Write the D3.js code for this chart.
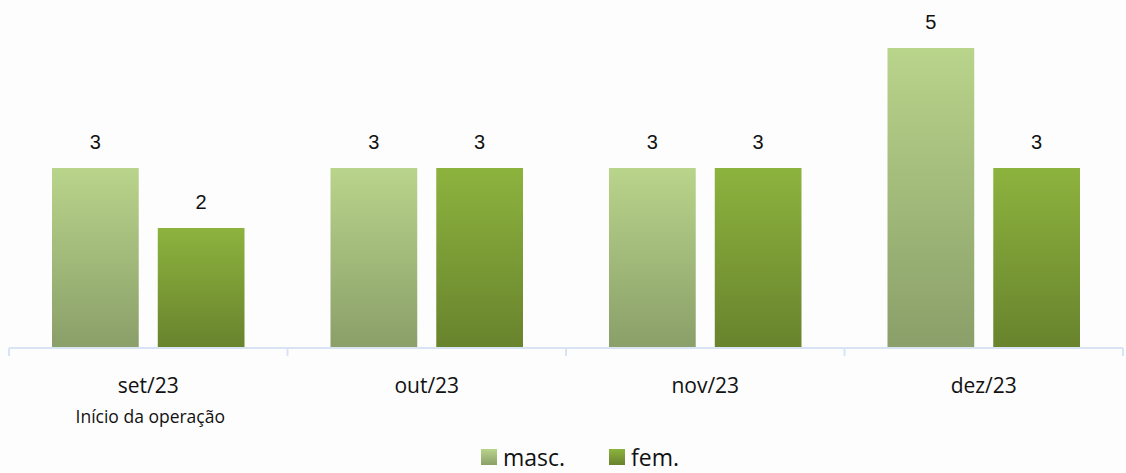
<!DOCTYPE html>
<html>
<head>
<meta charset="utf-8">
<script src="https://cdn.jsdelivr.net/npm/d3@7"></script>
<style>
  body { margin: 0; background: #fcfcfc; }
  svg { display: block; }
</style>
</head>
<body>
<script>
var width = 1126;
var height = 473;
var baseY = 348;

// data
var months = ["set/23", "out/23", "nov/23", "dez/23"];
var series = ["masc.", "fem."];
var masc = [3, 3, 3, 5];
var fem = [2, 3, 3, 3];
var notes = ["Início da operação", "", "", ""];

var values = [masc, fem];
var colors = {
  "masc.": ["#b9d48b", "#8a9f69"],
  "fem.": ["#8db33e", "#68832d"]
};

var svg = d3.select('body').append('svg')
    .attr('width', width)
    .attr('height', height);

// gradients
var defs = svg.append('defs');
series.forEach(function(s, i) {
  var g = defs.append('linearGradient')
      .attr('id', 'grad' + i)
      .attr('x1', 0).attr('y1', 0).attr('x2', 0).attr('y2', 1);
  g.append('stop').attr('offset', '0%').attr('stop-color', colors[s][0]);
  g.append('stop').attr('offset', '100%').attr('stop-color', colors[s][1]);
});

// faint background
svg.append('rect')
    .attr('width', width)
    .attr('height', height)
    .attr('fill', '#fdfdfd');

var x0 = d3.scaleBand()
    .domain(months)
    .range([9, 1123]);

var x1 = d3.scaleBand()
    .domain(series)
    .range([43, x0.bandwidth() - 43])
    .paddingInner(0.18);

var y = d3.scaleLinear()
    .domain([0, 5])
    .range([baseY, 48]);

// bars
var groups = svg.selectAll('.grp')
    .data(months)
    .enter().append('g')
    .attr('transform', function(d) { return 'translate(' + x0(d) + ',0)'; });

groups.selectAll('rect')
    .data(function(d, mi) {
      return series.map(function(s, si) { return {s: s, si: si, v: values[si][mi]}; });
    })
    .enter().append('rect')
    .attr('x', function(d) { return x1(d.s); })
    .attr('y', function(d) { return y(d.v); })
    .attr('width', x1.bandwidth())
    .attr('height', function(d) { return baseY - y(d.v); })
    .attr('fill', function(d) { return 'url(#grad' + d.si + ')'; });

// value labels
groups.selectAll('text.val')
    .data(function(d, mi) {
      return series.map(function(s, si) { return {s: s, v: values[si][mi]}; });
    })
    .enter().append('text')
    .attr('class', 'val')
    .attr('x', function(d) { return x1(d.s) + x1.bandwidth() / 2; })
    .attr('y', function(d) { return y(d.v) - 19; })
    .attr('text-anchor', 'middle')
    .attr('font-family', 'Liberation Sans, Arial, sans-serif')
    .attr('font-size', 20)
    .attr('fill', '#111')
    .text(function(d) { return d.v; });

// axis
var axis = svg.append('g')
    .attr('transform', 'translate(0,' + baseY + ')')
    .call(d3.axisBottom(x0).tickValues([]).tickSizeOuter(0));
axis.select('.domain').remove();

axis.append('line')
    .attr('x1', 9).attr('x2', 1123)
    .attr('y1', 0).attr('y2', 0)
    .attr('stroke', '#d8e4f3')
    .attr('stroke-width', 2);

var tickXs = months.map(function(m) { return x0(m); }).concat([x0.range()[1]]);
axis.selectAll('.tk')
    .data(tickXs)
    .enter().append('line')
    .attr('x1', function(d) { return d; })
    .attr('x2', function(d) { return d; })
    .attr('y1', 0).attr('y2', 8)
    .attr('stroke', '#d8e4f3')
    .attr('stroke-width', 2);

// category labels
svg.selectAll('.cat')
    .data(months)
    .enter().append('text')
    .attr('x', function(d) { return x0(d) + x0.bandwidth() / 2; })
    .attr('y', 393)
    .attr('text-anchor', 'middle')
    .attr('font-family', 'Open Sans, Noto Sans, sans-serif')
    .attr('font-size', 21)
    .attr('fill', '#111')
    .text(function(d) { return d; });

svg.selectAll('.note')
    .data(months)
    .enter().append('text')
    .attr('x', function(d) { return x0(d) + x0.bandwidth() / 2 + 2; })
    .attr('y', 423)
    .attr('text-anchor', 'middle')
    .attr('font-family', 'Open Sans, Noto Sans, sans-serif')
    .attr('font-size', 17.5)
    .attr('fill', '#111')
    .text(function(d, i) { return notes[i]; });

// legend
var legendX = [481, 609];
var legend = svg.selectAll('.leg')
    .data(series)
    .enter().append('g')
    .attr('transform', function(d, i) { return 'translate(' + legendX[i] + ',449)'; });

legend.append('rect')
    .attr('width', 16)
    .attr('height', 16)
    .attr('fill', function(d, i) { return 'url(#grad' + i + ')'; });

legend.append('text')
    .attr('x', 22)
    .attr('y', 17)
    .attr('font-family', 'Open Sans, Noto Sans, sans-serif')
    .attr('font-size', 23)
    .attr('fill', '#111')
    .text(function(d) { return d; });
</script>
</body>
</html>
